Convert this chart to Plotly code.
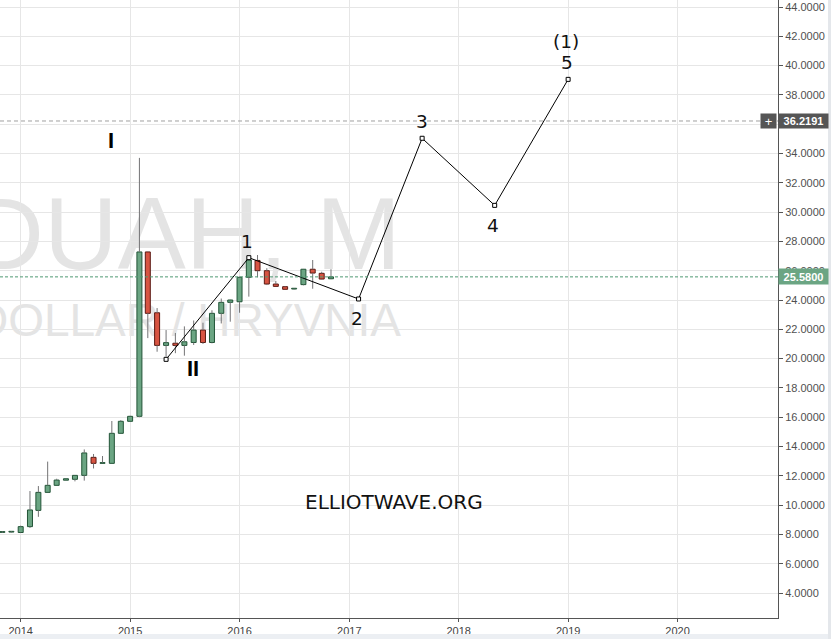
import plotly.graph_objects as go

# ---------------- data ----------------
months = ["2013-11-01", "2013-12-01",
          "2014-01-01", "2014-02-01", "2014-03-01", "2014-04-01", "2014-05-01", "2014-06-01",
          "2014-07-01", "2014-08-01", "2014-09-01", "2014-10-01", "2014-11-01", "2014-12-01",
          "2015-01-01", "2015-02-01", "2015-03-01", "2015-04-01", "2015-05-01", "2015-06-01",
          "2015-07-01", "2015-08-01", "2015-09-01", "2015-10-01", "2015-11-01", "2015-12-01",
          "2016-01-01", "2016-02-01", "2016-03-01", "2016-04-01", "2016-05-01", "2016-06-01",
          "2016-07-01", "2016-08-01", "2016-09-01", "2016-10-01", "2016-11-01"]
opens = [8.14, 8.16,
         8.13, 8.53, 9.64, 10.87, 11.35, 11.70,
         11.76, 12.03, 13.26, 12.85, 12.85, 14.90,
         15.72, 16.06, 27.28, 23.13, 20.90, 21.05,
         20.90, 21.10, 21.95, 21.10, 23.09, 23.84,
         23.88, 25.55, 26.70, 26.00, 25.09, 24.91,
         24.75, 25.05, 26.10, 25.82, 25.45]
highs = [8.20, 8.22,
         8.60, 10.96, 11.30, 12.97, 11.80, 11.82,
         12.05, 13.80, 13.49, 13.35, 15.74, 15.80,
         16.10, 33.70, 27.30, 23.45, 21.95, 21.75,
         22.20, 22.60, 22.45, 23.30, 24.10, 24.02,
         25.60, 26.96, 27.07, 26.17, 25.30, 24.95,
         24.80, 26.12, 26.73, 25.93, 26.10]
lows = [8.10, 8.12,
        8.10, 8.44, 9.20, 10.87, 11.35, 11.68,
        11.62, 11.67, 12.50, 12.85, 12.85, 14.90,
        15.72, 16.00, 21.40, 20.47, 20.13, 20.37,
        20.20, 20.93, 21.00, 21.04, 22.40, 22.52,
        23.13, 24.23, 25.55, 25.02, 24.93, 24.73,
        24.72, 25.00, 24.77, 25.40, 25.42]
closes = [8.16, 8.18,
          8.53, 9.67, 10.87, 11.35, 11.71, 11.80,
          12.03, 13.56, 12.85, 12.90, 14.90, 15.72,
          16.06, 27.28, 23.09, 20.90, 21.09, 20.90,
          21.15, 21.95, 21.10, 23.09, 23.84, 24.00,
          25.55, 26.73, 26.00, 25.09, 24.93, 24.73,
          24.78, 26.10, 25.84, 25.43, 25.58]

wave_dates = ["2015-05-01", "2016-02-01", "2017-02-01", "2017-09-01", "2018-05-01", "2019-01-01"]
wave_values = [19.95, 26.89, 24.07, 35.04, 30.46, 39.06]

roman_texts = ["I", "II"]
roman_dates = ["2014-10-29", "2015-07-29"]
roman_values = [34.89, 19.35]

num_texts = ["1", "2", "3", "4", "(1)", "5"]
num_dates = ["2016-01-27", "2017-01-28", "2017-09-01", "2018-04-27", "2018-12-24", "2018-12-28"]
num_values = [27.98, 22.75, 36.17, 29.12, 41.63, 40.18]

last_price = 25.58
cursor_price = 36.2191

year_ticks = ["2014-01-01", "2015-01-01", "2016-01-01", "2017-01-01",
              "2018-01-01", "2019-01-01", "2020-01-01"]
year_labels = ["2014", "2015", "2016", "2017", "2018", "2019", "2020"]
price_ticks = list(range(4, 45, 2))

# ---------------- styles ----------------
GREEN_FILL, GREEN_EDGE = "#6ba583", "#225437"
RED_FILL, RED_EDGE = "#d75442", "#5b1a13"
WICK = "#737375"
GRID = "#e6e6e6"
AXIS = "#555555"

up = [c >= o for o, c in zip(opens, closes)]
bases = [min(o, c) for o, c in zip(opens, closes)]
heights = [max(abs(c - o), 0.05) for o, c in zip(opens, closes)]
fills = [GREEN_FILL if u else RED_FILL for u in up]
edges = [GREEN_EDGE if u else RED_EDGE for u in up]

wick_x, wick_y = [], []
for d, o, h, l, c in zip(months, opens, highs, lows, closes):
    top, bot = max(o, c), min(o, c)
    if h > top:
        wick_x += [d, d, None]
        wick_y += [top, h, None]
    if l < bot:
        wick_x += [d, d, None]
        wick_y += [bot, l, None]

fig = go.Figure()

fig.add_trace(go.Bar(
    x=months, y=heights, base=bases,
    width=1.44e9,
    marker=dict(color=fills, line=dict(color=edges, width=1)),
    hoverinfo="skip", showlegend=False,
))
fig.add_trace(go.Scatter(
    x=wick_x, y=wick_y, mode="lines",
    line=dict(color=WICK, width=1),
    hoverinfo="skip", showlegend=False,
))
fig.add_trace(go.Scatter(
    x=wave_dates, y=wave_values, mode="lines+markers",
    line=dict(color="#000000", width=1),
    marker=dict(symbol="square", size=4, color="#ffffff",
                line=dict(color="#000000", width=1)),
    hoverinfo="skip", showlegend=False,
))

# watermark (behind traces, above grid)
PW, PH = 778.0, 618.0
def px_x(px):
    return px / PW
def px_y(py):
    return (PH - py) / PH

for text, size, cy in [("USDUAH, M", 102, 224), ("U.S. DOLLAR / HRYVNIA", 46, 316)]:
    c = px_y(cy)
    fig.add_shape(type="rect", xref="paper", yref="paper",
                  x0=-1.0, x1=px_x(404), y0=c - 0.06, y1=c + 0.06,
                  line=dict(width=0), fillcolor="rgba(0,0,0,0)", layer="between",
                  label=dict(text=text, textposition="middle right", padding=0,
                             font=dict(size=size, color="#e4e4e4",
                                       family="Liberation Sans, Arial, sans-serif")))

# horizontal price lines
fig.add_shape(type="line", xref="paper", yref="y", x0=0, x1=1,
              y0=cursor_price, y1=cursor_price,
              line=dict(color="#a0a0a0", width=1, dash="4px,3px"))
fig.add_shape(type="line", xref="paper", yref="y", x0=0, x1=1,
              y0=last_price, y1=last_price,
              line=dict(color="#4f9a73", width=1, dash="3px,2px"))

# frame pieces outside the pane
fig.add_shape(type="rect", xref="paper", yref="paper",
              x0=0, x1=831 / PW, y0=px_y(639), y1=px_y(634),
              line=dict(width=0), fillcolor="#eceff3", layer="above")
fig.add_shape(type="rect", xref="paper", yref="paper",
              x0=px_x(828), x1=px_x(831), y0=px_y(639), y1=px_y(0),
              line=dict(width=0), fillcolor="#e4e7eb", layer="above")

annotations = []
for t, d, v in zip(roman_texts, roman_dates, roman_values):
    annotations.append(dict(x=d, y=v, xref="x", yref="y", text=t, showarrow=False,
                            font=dict(size=22, color="#000000",
                                      family="Liberation Sans, Arial, sans-serif",
                                      weight="bold"),
                            xanchor="center", yanchor="middle"))
for t, d, v in zip(num_texts, num_dates, num_values):
    annotations.append(dict(x=d, y=v, xref="x", yref="y", text=t, showarrow=False,
                            font=dict(size=18.5, color="#111111",
                                      family="DejaVu Sans, Verdana, sans-serif"),
                            xanchor="center", yanchor="middle"))
annotations.append(dict(x=px_x(394), y=px_y(501.7), xref="paper", yref="paper",
                        text="ELLIOTWAVE.ORG", showarrow=False,
                        font=dict(size=20, color="#111111",
                                  family="DejaVu Sans, Verdana, sans-serif"),
                        xanchor="center", yanchor="middle"))
# axis price badges
annotations.append(dict(x=1, y=cursor_price, xref="paper", yref="y",
                        text="<b>%.4f</b>" % cursor_price, showarrow=False,
                        xanchor="left", yanchor="middle", width=47, height=12,
                        borderpad=1, bgcolor="#555555",
                        font=dict(size=11, color="#ffffff",
                                  family="Liberation Sans, Arial, sans-serif")))
annotations.append(dict(x=1, y=cursor_price, xref="paper", yref="y",
                        text="+", showarrow=False, xshift=-1,
                        xanchor="right", yanchor="middle", width=13, height=12,
                        borderpad=1, bgcolor="#555555",
                        font=dict(size=13, color="#ffffff",
                                  family="Liberation Sans, Arial, sans-serif")))
annotations.append(dict(x=1, y=last_price, xref="paper", yref="y",
                        text="<b>%.4f</b>" % last_price, showarrow=False,
                        xanchor="left", yanchor="middle", width=47, height=13,
                        borderpad=1, bgcolor=GREEN_FILL,
                        font=dict(size=11, color="#ffffff",
                                  family="Liberation Sans, Arial, sans-serif")))

fig.update_layout(
    width=831, height=639,
    margin=dict(l=0, r=53, t=0, b=21, pad=0, autoexpand=False),
    paper_bgcolor="#ffffff", plot_bgcolor="#ffffff",
    showlegend=False, bargap=0,
    annotations=annotations,
    xaxis=dict(type="date", range=["2013-10-24", "2020-12-01"],
               tickvals=year_ticks, ticktext=year_labels,
               showgrid=True, gridcolor=GRID, gridwidth=1,
               showline=True, linecolor=AXIS, linewidth=1,
               ticks="outside", ticklen=3, tickcolor=AXIS,
               tickfont=dict(size=11, color="#444444",
                             family="Liberation Sans, Arial, sans-serif"),
               zeroline=False, fixedrange=True, automargin=False),
    yaxis=dict(side="right", range=[2.294, 44.478],
               tickvals=price_ticks, tickformat=".4f",
               showgrid=True, gridcolor=GRID, gridwidth=1,
               showline=True, linecolor=AXIS, linewidth=1,
               ticks="outside", ticklen=4, tickcolor=AXIS,
               tickfont=dict(size=11, color="#505050",
                             family="Liberation Sans, Arial, sans-serif"),
               zeroline=False, fixedrange=True, automargin=False),
)

fig.write_html("out.html",
               config={"displayModeBar": False, "staticPlot": True},
               post_script="document.body.style.margin='0px';document.body.style.overflow='hidden';")
